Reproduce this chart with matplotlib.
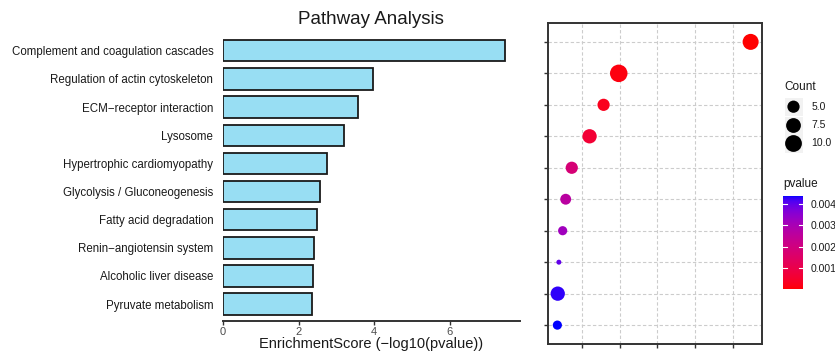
import numpy as np
import matplotlib
matplotlib.use("Agg")
import matplotlib.pyplot as plt
from matplotlib.colors import ListedColormap, Normalize

plt.rcParams['font.family'] = ['Liberation Sans', 'DejaVu Sans']

# ---------------- data ----------------
pathways = [
    "Complement and coagulation cascades",
    "Regulation of actin cytoskeleton",
    "ECM\u2212receptor interaction",
    "Lysosome",
    "Hypertrophic cardiomyopathy",
    "Glycolysis / Gluconeogenesis",
    "Fatty acid degradation",
    "Renin\u2212angiotensin system",
    "Alcoholic liver disease",
    "Pyruvate metabolism",
]
enrichment = [7.46, 3.98, 3.58, 3.21, 2.74, 2.58, 2.50, 2.40, 2.37, 2.36]
counts = [9, 11, 5, 7, 5, 4, 3, 2, 7, 3]
bar_xticks = [0, 2, 4, 6]
dot_xticks = [3, 4, 5, 6, 7]
size_legend = [5.0, 7.5, 10.0]
pvalue_ticks = [0.001, 0.002, 0.003, 0.004]

enrichment = np.array(enrichment)
counts = np.array(counts, dtype=float)
pvalues = 10.0 ** (-enrichment)
ypos = np.arange(len(pathways))

# ---------- ggplot-like red->blue gradient in Lab space ----------
def srgb_to_lab(rgb):
    c = np.array(rgb, dtype=float)
    lin = np.where(c <= 0.04045, c / 12.92, ((c + 0.055) / 1.055) ** 2.4)
    M = np.array([[0.4124, 0.3576, 0.1805],
                  [0.2126, 0.7152, 0.0722],
                  [0.0193, 0.1192, 0.9505]])
    xyz = M @ lin
    xyz = xyz / np.array([0.95047, 1.0, 1.08883])
    f = np.where(xyz > 0.008856, np.cbrt(xyz), 7.787 * xyz + 16 / 116)
    return np.array([116 * f[1] - 16, 500 * (f[0] - f[1]), 200 * (f[1] - f[2])])

def lab_to_srgb(lab):
    L, a, b = lab
    fy = (L + 16) / 116
    fx = fy + a / 500
    fz = fy - b / 200
    f = np.array([fx, fy, fz])
    xyz = np.where(f ** 3 > 0.008856, f ** 3, (f - 16 / 116) / 7.787)
    xyz = xyz * np.array([0.95047, 1.0, 1.08883])
    Minv = np.array([[3.2406, -1.5372, -0.4986],
                     [-0.9689, 1.8758, 0.0415],
                     [0.0557, -0.2040, 1.0570]])
    lin = Minv @ xyz
    lin = np.clip(lin, 0, 1)
    c = np.where(lin <= 0.0031308, 12.92 * lin, 1.055 * lin ** (1 / 2.4) - 0.055)
    return np.clip(c, 0, 1)

lab_r = srgb_to_lab([1, 0, 0])
lab_b = srgb_to_lab([0, 0, 1])
cols = [lab_to_srgb(lab_r + t * (lab_b - lab_r)) for t in np.linspace(0, 1, 256)]
cmap = ListedColormap(cols)
norm = Normalize(vmin=pvalues.min(), vmax=pvalues.max())

def diam_px(c):
    cmin, cmax = counts.min(), counts.max()
    return 5.0 + 12.5 * np.sqrt((np.asarray(c) - cmin) / (cmax - cmin))

def area_pt2(c):
    d = diam_px(c) * 0.72
    return d ** 2

# ---------------- figure ----------------
W, H = 835, 351
fig = plt.figure(figsize=(W / 100, H / 100), dpi=100)

def ax_rect(x0, y0, x1, y1):
    return [x0 / W, 1 - y1 / H, (x1 - x0) / W, (y1 - y0) / H]

# ---- left bar chart ----
ax1 = fig.add_axes(ax_rect(223, 33.9, 520, 321))
ax1.barh(ypos, enrichment, height=0.76, color='#98DEF3',
         edgecolor='#1a1a1a', linewidth=1.3)
ax1.set_ylim(len(pathways) - 0.4, -0.6)
ax1.set_xlim(0, 7.86)
ax1.set_yticks(ypos)
ax1.set_yticklabels(pathways, fontsize=8.3, color='#1a1a1a')
ax1.tick_params(axis='y', length=0, pad=7)
ax1.set_xticks(bar_xticks)
ax1.tick_params(axis='x', length=3, width=1, colors='#333333',
                labelsize=8, labelcolor='#4d4d4d', pad=1)
for s in ['top', 'right', 'left']:
    ax1.spines[s].set_visible(False)
ax1.spines['bottom'].set_color('#333333')
ax1.spines['bottom'].set_linewidth(1.4)
ax1.set_xlabel("EnrichmentScore (\u2212log10(pvalue))", fontsize=10.5,
               color='#1a1a1a', labelpad=0)
fig.text(371 / W, 1 - 20 / H, "Pathway Analysis", ha='center', va='center',
         fontsize=13.5, color='#1a1a1a')

# ---- right dot plot ----
ax2 = fig.add_axes(ax_rect(547.5, 23, 762, 344))
ax2.set_facecolor('white')
ax2.scatter(enrichment, ypos, s=area_pt2(counts), c=pvalues, cmap=cmap,
            norm=norm, edgecolors='none', zorder=3)
ax2.set_ylim(len(pathways) - 0.4, -0.6)
ax2.set_xlim(2.10, 7.76)
ax2.set_xticks(dot_xticks)
ax2.set_yticks(ypos)
ax2.set_xticklabels([])
ax2.set_yticklabels([])
ax2.grid(True, color='#cccccc', linestyle=(0, (3, 2)), linewidth=0.8, zorder=0)
ax2.set_axisbelow(True)
ax2.tick_params(length=3, width=1, colors='#333333')
for s in ax2.spines.values():
    s.set_color('#333333')
    s.set_linewidth(1.4)

# ---- overlay axes for legends (pixel coordinates) ----
lax = fig.add_axes([0, 0, 1, 1], facecolor='none')
lax.set_xlim(0, W)
lax.set_ylim(H, 0)
lax.axis('off')

lax.text(784, 86.7, "Count", ha='left', va='center', fontsize=8.5,
         color='#1a1a1a')
leg_y = [106.7, 125.5, 143.5]
for val, yy in zip(size_legend, leg_y):
    lax.add_patch(plt.Rectangle((784.5, yy - 9), 18, 18, facecolor='#f2f2f2',
                                edgecolor='none', zorder=1))
    lax.scatter([793.5], [yy], s=area_pt2(val), color='black',
                edgecolors='none', zorder=2)
    lax.text(811.5, yy, f"{val:.1f}", ha='left', va='center', fontsize=7.5,
             color='#1a1a1a')

# ---- colorbar ----
lax.text(783, 184, "pvalue", ha='left', va='center', fontsize=8.5,
         color='#1a1a1a')
cax = fig.add_axes(ax_rect(782.7, 196, 803.3, 289.3))
sm = plt.cm.ScalarMappable(norm=norm, cmap=cmap)
cb = fig.colorbar(sm, cax=cax)
cb.outline.set_visible(False)
cb.set_ticks(pvalue_ticks)
cb.set_ticklabels([f"{t:.3f}" for t in pvalue_ticks])
cax.tick_params(length=0, labelsize=7.5, labelcolor='#1a1a1a', pad=5)
for t in pvalue_ticks:
    cax.plot([0, 0.2], [t, t], color='white', lw=0.8,
             transform=cax.get_yaxis_transform())
    cax.plot([0.8, 1.0], [t, t], color='white', lw=0.8,
             transform=cax.get_yaxis_transform())

fig.savefig("out.png", dpi=100)
